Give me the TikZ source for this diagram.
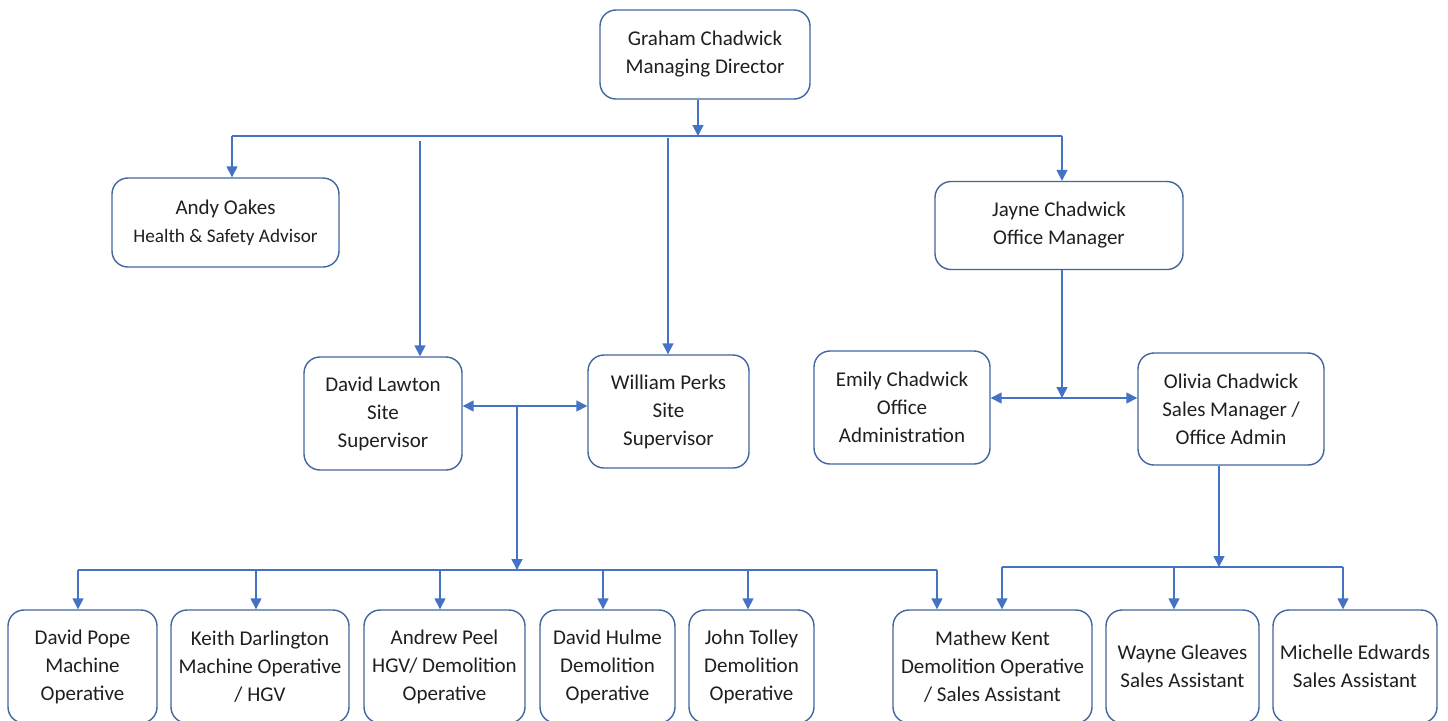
\documentclass[tikz,border=0pt]{standalone}
\usepackage{fontspec}
\setmainfont{Carlito}
\usepackage{tikz}
\usetikzlibrary{arrows.meta, positioning, calc}
\usepackage{xcolor}
\definecolor{orgline}{HTML}{4472C4}
\definecolor{orgframe}{HTML}{41659E}
\definecolor{orgtext}{HTML}{1F1F1F}

\begin{document}
\begin{tikzpicture}[x=0.5pt, y=-0.5pt,
    person/.style={draw=orgframe, line width=0.7pt, rounded corners=8pt,
      align=center, inner sep=0pt, text=orgtext,
      font=\fontsize{10.5}{14}\selectfont},
    link/.style={draw=orgline, line width=0.75pt},
    arr/.style={link, -{Triangle[length=5.5pt,width=5.5pt]}},
    twoarr/.style={link, {Triangle[length=5.5pt,width=5.5pt]}-{Triangle[length=5.5pt,width=5.5pt]}}]
  \useasboundingbox (0,0) rectangle (1448,720);

  % Director
  \node[person, minimum width=105pt, minimum height=44.5pt] (gc) at (705,54.5)
    {Graham Chadwick\\Managing Director};

  % Second level
  \node[person, minimum width=113.5pt, minimum height=44.5pt] (andy) at (225.5,222.5)
    {Andy Oakes\\{\fontsize{9.6}{13}\selectfont Health \& Safety Advisor}};
  \node[person, minimum width=124pt, minimum height=44pt] (jayne) at (1059,225.5)
    {Jayne Chadwick\\Office Manager};

  % Supervisors and office staff
  \node[person, minimum width=79pt, minimum height=56.5pt] (lawton) at (383,413.5)
    {David Lawton\\Site\\Supervisor};
  \node[person, minimum width=80.5pt, minimum height=56.5pt] (perks) at (668.5,411.5)
    {William Perks\\Site\\Supervisor};
  \node[person, minimum width=88pt, minimum height=56.5pt] (emily) at (902,407.5)
    {Emily Chadwick\\Office\\Administration};
  \node[person, minimum width=93pt, minimum height=56pt] (olivia) at (1231,409)
    {Olivia Chadwick\\Sales Manager /\\Office Admin};

  % Bottom row
  \node[person, minimum width=74.5pt, minimum height=56.5pt] (pope) at (82.5,666.5)
    {David Pope\\Machine\\Operative};
  \node[person, minimum width=89pt, minimum height=56.5pt] (keith) at (260,666.5)
    {Keith Darlington\\Machine Operative\\/ HGV};
  \node[person, minimum width=80.5pt, minimum height=56.5pt] (peel) at (444.5,666.5)
    {Andrew Peel\\HGV/ Demolition\\Operative};
  \node[person, minimum width=67.5pt, minimum height=56.5pt] (hulme) at (607.5,666.5)
    {David Hulme\\Demolition\\Operative};
  \node[person, minimum width=62.5pt, minimum height=56.5pt] (tolley) at (751.5,666.5)
    {John Tolley\\Demolition\\Operative};
  \node[person, minimum width=99.5pt, minimum height=56.5pt] (kent) at (992.5,666.5)
    {Mathew Kent\\Demolition Operative\\/ Sales Assistant};
  \node[person, minimum width=76.5pt, minimum height=56.5pt] (wayne) at (1182.5,666.5)
    {Wayne Gleaves\\Sales Assistant};
  \node[person, minimum width=82pt, minimum height=56.5pt] (michelle) at (1355,666.5)
    {Michelle Edwards\\Sales Assistant};

  % Top bus
  \coordinate (topbus) at (698,136);
  \coordinate (busL) at (232,136);
  \coordinate (busR) at (1062,136);
  \draw[arr] (gc.south -| topbus) -- (topbus);
  \draw[link] (busL) -- (busR);
  \draw[arr] (busL) -- (busL |- andy.north);
  \draw[arr] (busR) -- (busR |- jayne.north);

  % Site supervisors
  \coordinate (lawdrop) at (420,141);
  \coordinate (perkdrop) at (668,138);
  \draw[arr] (lawdrop) -- (lawdrop |- lawton.north);
  \draw[arr] (perkdrop) -- (perkdrop |- perks.north);
  \coordinate (sitemid) at (517,406);
  \draw[twoarr] (sitemid -| lawton.east) -- (sitemid -| perks.west);

  % Operatives
  \coordinate (opbus) at (517,570);
  \draw[arr] (sitemid) -- (opbus);
  \draw[link] (78,570) -- (937,570);
  \foreach \x/\n in {78/pope, 256/keith, 440/peel, 603/hulme, 748/tolley, 937/kent}
    \draw[arr] (\x,570) -- (\x,570 |- \n.north);

  % Office
  \coordinate (officemid) at (1062,398);
  \draw[arr] (jayne.south -| officemid) -- (officemid);
  \draw[twoarr] (officemid -| emily.east) -- (officemid -| olivia.west);

  % Sales
  \coordinate (salesbus) at (1219,567);
  \draw[arr] (olivia.south -| salesbus) -- (salesbus);
  \draw[link] (1002,567) -- (1343,567);
  \foreach \x/\n in {1002/kent, 1174/wayne, 1343/michelle}
    \draw[arr] (\x,567) -- (\x,567 |- \n.north);
\end{tikzpicture}
\end{document}
